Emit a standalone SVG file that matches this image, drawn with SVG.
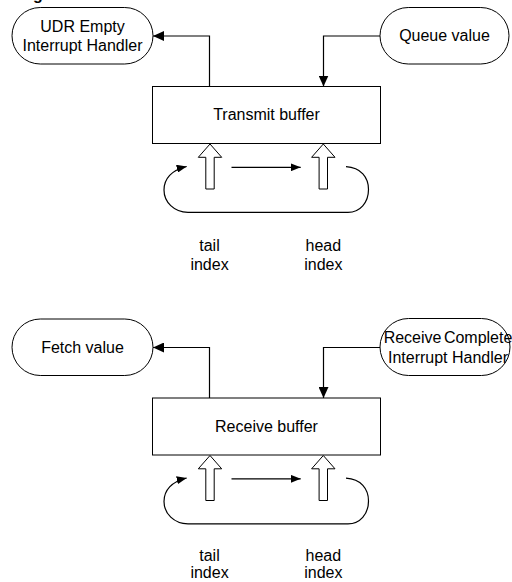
<svg xmlns="http://www.w3.org/2000/svg" width="512" height="582" viewBox="0 0 512 582">
  <style>
    .t { font-family: "Liberation Sans", Arial, sans-serif; font-size: 16px; fill: #000; text-anchor: middle; }
    .title { font-family: "Liberation Sans", Arial, sans-serif; font-size: 16px; font-weight: bold; fill: #000; }
    .node { fill: #fff; stroke: #000; stroke-width: 1; }
    .ptr { fill: #fff; stroke: #000; stroke-width: 1; stroke-linejoin: miter; }
    .wire { fill: none; stroke: #000; stroke-width: 1.2; }
  </style>
  <defs>
    <marker id="arr" markerUnits="userSpaceOnUse" markerWidth="11" markerHeight="10" refX="11" refY="5" orient="auto">
      <path d="M0,0 L11,5 L0,10 z" fill="#000"/>
    </marker>
    <marker id="arrS" markerUnits="userSpaceOnUse" markerWidth="10" markerHeight="8" refX="10" refY="4" orient="auto">
      <path d="M0,0 L10,4 L0,8 z" fill="#000"/>
    </marker>
  </defs>

  <rect width="512" height="582" fill="#fff"/>

  <!-- heading, mostly above the top edge -->
  <text class="title" x="33" y="0">g</text>

  <!-- transmit side -->
  <g id="udr-empty-handler">
    <rect class="node" x="12" y="7.5" width="141" height="56.5" rx="28.25" ry="28.25"/>
    <text class="t" x="82.5" y="31.5">UDR Empty</text>
    <text class="t" x="82.5" y="51">Interrupt Handler</text>
  </g>
  <g id="queue-value">
    <rect class="node" x="380" y="7.5" width="129" height="56.5" rx="28.25" ry="28.25"/>
    <text class="t" x="444.5" y="41">Queue value</text>
  </g>
  <g id="transmit-buffer">
    <rect class="node" x="152.5" y="86.5" width="228" height="57"/>
    <text class="t" x="266.5" y="120">Transmit buffer</text>
  </g>
  <g id="tx-tail">
    <polygon class="ptr" points="210,144 221.7,157.3 214.2,157.3 214.2,189 205.8,189 205.8,157.3 198.3,157.3"/>
    <text class="t" x="209.5" y="251">tail</text>
    <text class="t" x="209.5" y="269.5">index</text>
  </g>
  <g id="tx-head">
    <polygon class="ptr" points="323.3,144 335,157.3 327.5,157.3 327.5,189 319.1,189 319.1,157.3 311.6,157.3"/>
    <text class="t" x="323.3" y="251">head</text>
    <text class="t" x="323.3" y="269.5">index</text>
  </g>

  <!-- receive side -->
  <g id="fetch-value">
    <rect class="node" x="12" y="319" width="141" height="56.5" rx="28.25" ry="28.25"/>
    <text class="t" x="82.5" y="352.5">Fetch value</text>
  </g>
  <g id="rx-complete-handler">
    <rect class="node" x="380" y="318.5" width="130" height="57" rx="28.5" ry="28.5"/>
    <text class="t" x="448" y="343" word-spacing="-2">Receive Complete</text>
    <text class="t" x="448" y="363">Interrupt Handler</text>
  </g>
  <g id="receive-buffer">
    <rect class="node" x="152.5" y="398" width="228" height="57"/>
    <text class="t" x="266.5" y="431.5">Receive buffer</text>
  </g>
  <g id="rx-tail">
    <polygon class="ptr" points="210,455.5 221.7,468.8 214.2,468.8 214.2,500.5 205.8,500.5 205.8,468.8 198.3,468.8"/>
    <text class="t" x="209.5" y="561">tail</text>
    <text class="t" x="209.5" y="578">index</text>
  </g>
  <g id="rx-head">
    <polygon class="ptr" points="323.3,455.5 335,468.8 327.5,468.8 327.5,500.5 319.1,500.5 319.1,468.8 311.6,468.8"/>
    <text class="t" x="323.3" y="561">head</text>
    <text class="t" x="323.3" y="578">index</text>
  </g>

  <!-- connectors -->
  <g id="connectors">
    <!-- transmit -->
    <path class="wire" d="M209.5,86.5 V36 H153" marker-end="url(#arr)"/>
    <path class="wire" d="M380,36 H323.5 V86.5" marker-end="url(#arr)"/>
    <path class="wire" d="M231.5,167.3 H300.7" marker-end="url(#arrS)"/>
    <path class="wire" d="M346,166.7 C361,167.5 368.5,177.5 368.5,189.5 C368.5,202.5 360,212.3 348,212.3 L188,212.3 C174,212.3 164,202 164,190 C164,179 171.5,170 186.7,166.5" marker-end="url(#arrS)"/>
    <!-- receive -->
    <path class="wire" d="M209.5,398 V347.5 H153" marker-end="url(#arr)"/>
    <path class="wire" d="M380,347.5 H323.5 V398" marker-end="url(#arr)"/>
    <path class="wire" d="M231.5,478.8 H300.7" marker-end="url(#arrS)"/>
    <path class="wire" d="M346,478.2 C361,479 368.5,489 368.5,501 C368.5,514 360,523.8 348,523.8 L188,523.8 C174,523.8 164,513.5 164,501.5 C164,490.5 171.5,481.5 186.7,478" marker-end="url(#arrS)"/>
  </g>
</svg>
